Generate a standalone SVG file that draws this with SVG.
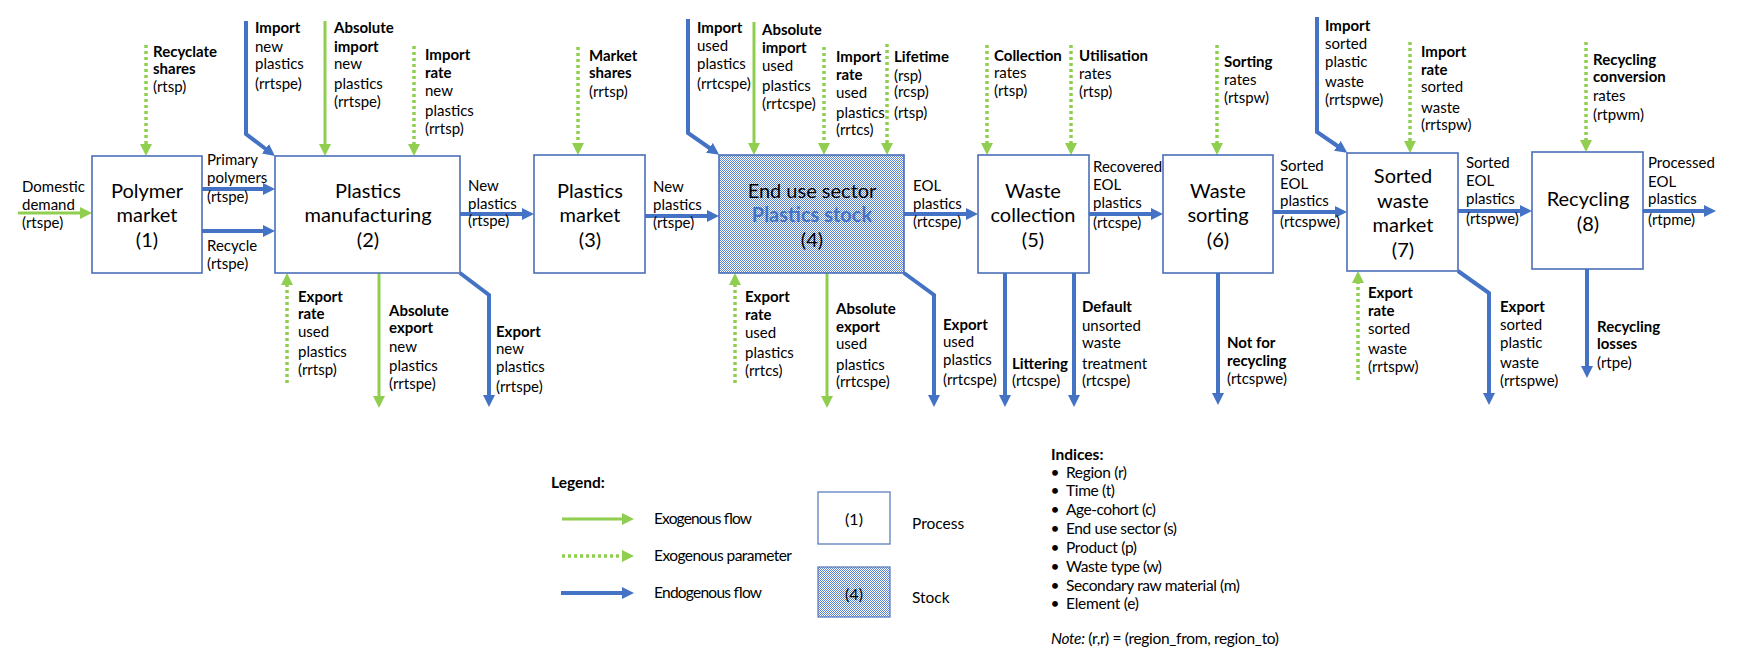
<svg xmlns="http://www.w3.org/2000/svg" width="1739" height="658" viewBox="0 0 1739 658">
<style>
text{font-family:Lato,"Open Sans","Liberation Sans",sans-serif;fill:#000}
.l{font-size:15px}
.b{font-weight:bold}
.n{font-size:20px;text-anchor:middle}
.s{font-size:15.5px}
.box{fill:#fff;stroke:#4A6FB8;stroke-width:1.6}
.stock{fill:url(#hatch);stroke:#4A6FB8;stroke-width:1.6}
.blue{fill:none;stroke:#4472C4;stroke-width:4;marker-end:url(#ab)}
.green{fill:none;stroke:#8FCE4F;stroke-width:3;marker-end:url(#ag)}
.dot{fill:none;stroke:#8FCE4F;stroke-width:3.5;stroke-dasharray:3 3;marker-end:url(#ag)}
</style>
<defs>
<pattern id="hatch" width="2" height="2" patternUnits="userSpaceOnUse">
<rect width="2" height="2" fill="#fff"/>
<rect width="1" height="1" fill="#5A82CE"/>
<rect x="1" y="1" width="1" height="1" fill="#5A82CE"/>
</pattern>
<marker id="ab" markerUnits="userSpaceOnUse" markerWidth="12" markerHeight="12" viewBox="0 0 12 12" refX="2" refY="6" orient="auto"><path d="M0,0 L12,6 L0,12 z" fill="#4472C4"/></marker>
<marker id="ag" markerUnits="userSpaceOnUse" markerWidth="12" markerHeight="12" viewBox="0 0 12 12" refX="2" refY="6" orient="auto"><path d="M0,0 L12,6 L0,12 z" fill="#8FCE4F"/></marker>
</defs>

<g id="connectors">
<path class="green" d="M18,213 H82"/>
<path class="blue" d="M202,189 H265"/>
<path class="blue" d="M202,231 H265"/>
<path class="blue" d="M460,214 H524"/>
<path class="blue" d="M645,216 H709"/>
<path class="blue" d="M904,214 H968"/>
<path class="blue" d="M1089,214 H1153"/>
<path class="blue" d="M1273,212 H1337"/>
<path class="blue" d="M1458,211 H1522"/>
<path class="blue" d="M1643,211 H1706"/>

<path class="dot" d="M146,45 V146"/>
<path class="blue" d="M246,21 V134 L267,150"/>
<path class="green" d="M325,21 V146"/>
<path class="dot" d="M414,46 V146"/>
<path class="dot" d="M578,47 V145"/>
<path class="blue" d="M688,19 V133 L711,149"/>
<path class="green" d="M754,22 V145"/>
<path class="dot" d="M824,47 V145"/>
<path class="dot" d="M887,44 V145"/>
<path class="dot" d="M987,45 V145"/>
<path class="dot" d="M1071,45 V145"/>
<path class="dot" d="M1217,45 V145"/>
<path class="blue" d="M1317,17 V132 L1339,147"/>
<path class="dot" d="M1410,42 V143"/>
<path class="dot" d="M1586,42 V142"/>

<path class="dot" d="M287,383 V283"/>
<path class="green" d="M379,273 V398"/>
<path class="blue" d="M460,273 L489,295 V397"/>
<path class="dot" d="M735,383 V283"/>
<path class="green" d="M827,273 V398"/>
<path class="blue" d="M904,273 L934,295 V397"/>
<path class="blue" d="M1005,273 V397"/>
<path class="blue" d="M1074,273 V397"/>
<path class="blue" d="M1218,273 V395"/>
<path class="dot" d="M1358,380 V281"/>
<path class="blue" d="M1458,271 L1489,293 V395"/>
<path class="blue" d="M1587,269 V368"/>
</g>

<g id="n1"><rect class="box" x="92" y="156" width="110" height="117"/>
<text class="n" x="147" y="198">Polymer</text><text class="n" x="147" y="222">market</text><text class="n" x="147" y="247">(1)</text></g>
<g id="n2"><rect class="box" x="275" y="156" width="185" height="117"/>
<text class="n" x="368" y="198">Plastics</text><text class="n" x="368" y="222">manufacturing</text><text class="n" x="368" y="247">(2)</text></g>
<g id="n3"><rect class="box" x="534" y="155" width="111" height="118"/>
<text class="n" x="590" y="198">Plastics</text><text class="n" x="590" y="222">market</text><text class="n" x="590" y="247">(3)</text></g>
<g id="n4"><rect class="stock" x="719" y="155" width="185" height="118"/>
<text class="n" x="812" y="198">End use sector</text><text class="n b" x="812" y="222" style="fill:#4472C4">Plastics stock</text><text class="n" x="812" y="247">(4)</text></g>
<g id="n5"><rect class="box" x="978" y="155" width="111" height="118"/>
<text class="n" x="1033" y="198">Waste</text><text class="n" x="1033" y="222">collection</text><text class="n" x="1033" y="247">(5)</text></g>
<g id="n6"><rect class="box" x="1163" y="155" width="110" height="118"/>
<text class="n" x="1218" y="198">Waste</text><text class="n" x="1218" y="222">sorting</text><text class="n" x="1218" y="247">(6)</text></g>
<g id="n7"><rect class="box" x="1347" y="153" width="111" height="118"/>
<text class="n" x="1403" y="183">Sorted</text><text class="n" x="1403" y="208">waste</text><text class="n" x="1403" y="232">market</text><text class="n" x="1403" y="257">(7)</text></g>
<g id="n8"><rect class="box" x="1532" y="152" width="111" height="117"/>
<text class="n" x="1588" y="206">Recycling</text><text class="n" x="1588" y="231">(8)</text></g>

<g id="flow-labels" class="l">
<text x="22" y="192">Domestic</text><text x="22" y="210">demand</text><text x="22" y="228">(rtspe)</text>
<text x="207" y="165">Primary</text><text x="207" y="183">polymers</text><text x="207" y="202">(rtspe)</text>
<text x="207" y="251">Recycle</text><text x="207" y="269">(rtspe)</text>
<text x="468" y="191">New</text><text x="468" y="209">plastics</text><text x="468" y="226">(rtspe)</text>
<text x="653" y="192">New</text><text x="653" y="210">plastics</text><text x="653" y="228">(rtspe)</text>
<text x="913" y="191">EOL</text><text x="913" y="209">plastics</text><text x="913" y="227">(rtcspe)</text>
<text x="1093" y="172">Recovered</text><text x="1093" y="190">EOL</text><text x="1093" y="208">plastics</text><text x="1093" y="228">(rtcspe)</text>
<text x="1280" y="171">Sorted</text><text x="1280" y="189">EOL</text><text x="1280" y="206">plastics</text><text x="1280" y="227">(rtcspwe)</text>
<text x="1466" y="168">Sorted</text><text x="1466" y="186">EOL</text><text x="1466" y="204">plastics</text><text x="1466" y="224">(rtspwe)</text>
<text x="1648" y="168">Processed</text><text x="1648" y="187">EOL</text><text x="1648" y="204">plastics</text><text x="1648" y="225">(rtpme)</text>

<text x="153" y="57" class="b">Recyclate</text><text x="153" y="74" class="b">shares</text><text x="153" y="92">(rtsp)</text>
<text x="255" y="33" class="b">Import</text><text x="255" y="52">new</text><text x="255" y="69">plastics</text><text x="255" y="89">(rrtspe)</text>
<text x="334" y="33" class="b">Absolute</text><text x="334" y="52" class="b">import</text><text x="334" y="69">new</text><text x="334" y="89">plastics</text><text x="334" y="107">(rrtspe)</text>
<text x="425" y="60" class="b">Import</text><text x="425" y="78" class="b">rate</text><text x="425" y="96">new</text><text x="425" y="116">plastics</text><text x="425" y="134">(rrtsp)</text>
<text x="589" y="61" class="b">Market</text><text x="589" y="78" class="b">shares</text><text x="589" y="97">(rrtsp)</text>
<text x="697" y="33" class="b">Import</text><text x="697" y="51">used</text><text x="697" y="69">plastics</text><text x="697" y="89">(rrtcspe)</text>
<text x="762" y="35" class="b">Absolute</text><text x="762" y="53" class="b">import</text><text x="762" y="71">used</text><text x="762" y="91">plastics</text><text x="762" y="109">(rrtcspe)</text>
<text x="836" y="62" class="b">Import</text><text x="836" y="80" class="b">rate</text><text x="836" y="98">used</text><text x="836" y="118">plastics</text><text x="836" y="135">(rrtcs)</text>
<text x="894" y="62" class="b">Lifetime</text><text x="894" y="81">(rsp)</text><text x="894" y="97">(rcsp)</text><text x="894" y="118">(rtsp)</text>
<text x="994" y="61" class="b">Collection</text><text x="994" y="78">rates</text><text x="994" y="96">(rtsp)</text>
<text x="1079" y="61" class="b">Utilisation</text><text x="1079" y="79">rates</text><text x="1079" y="97">(rtsp)</text>
<text x="1224" y="67" class="b">Sorting</text><text x="1224" y="85">rates</text><text x="1224" y="103">(rtspw)</text>
<text x="1325" y="31" class="b">Import</text><text x="1325" y="49">sorted</text><text x="1325" y="67">plastic</text><text x="1325" y="87">waste</text><text x="1325" y="105">(rrtspwe)</text>
<text x="1421" y="57" class="b">Import</text><text x="1421" y="75" class="b">rate</text><text x="1421" y="92">sorted</text><text x="1421" y="113">waste</text><text x="1421" y="130">(rrtspw)</text>
<text x="1593" y="65" class="b">Recycling</text><text x="1593" y="82" class="b">conversion</text><text x="1593" y="101">rates</text><text x="1593" y="120">(rtpwm)</text>

<text x="298" y="302" class="b">Export</text><text x="298" y="319" class="b">rate</text><text x="298" y="337">used</text><text x="298" y="357">plastics</text><text x="298" y="375">(rrtsp)</text>
<text x="389" y="316" class="b">Absolute</text><text x="389" y="333" class="b">export</text><text x="389" y="352">new</text><text x="389" y="371">plastics</text><text x="389" y="389">(rrtspe)</text>
<text x="496" y="337" class="b">Export</text><text x="496" y="354">new</text><text x="496" y="372">plastics</text><text x="496" y="392">(rrtspe)</text>
<text x="745" y="302" class="b">Export</text><text x="745" y="320" class="b">rate</text><text x="745" y="338">used</text><text x="745" y="358">plastics</text><text x="745" y="376">(rrtcs)</text>
<text x="836" y="314" class="b">Absolute</text><text x="836" y="332" class="b">export</text><text x="836" y="349">used</text><text x="836" y="370">plastics</text><text x="836" y="387">(rrtcspe)</text>
<text x="943" y="330" class="b">Export</text><text x="943" y="347">used</text><text x="943" y="365">plastics</text><text x="943" y="385">(rrtcspe)</text>
<text x="1012" y="369" class="b">Littering</text><text x="1012" y="386">(rtcspe)</text>
<text x="1082" y="312" class="b">Default</text><text x="1082" y="331">unsorted</text><text x="1082" y="348">waste</text><text x="1082" y="369">treatment</text><text x="1082" y="386">(rtcspe)</text>
<text x="1227" y="348" class="b">Not for</text><text x="1227" y="366" class="b">recycling</text><text x="1227" y="384">(rtcspwe)</text>
<text x="1368" y="298" class="b">Export</text><text x="1368" y="316" class="b">rate</text><text x="1368" y="334">sorted</text><text x="1368" y="354">waste</text><text x="1368" y="372">(rrtspw)</text>
<text x="1500" y="312" class="b">Export</text><text x="1500" y="330">sorted</text><text x="1500" y="348">plastic</text><text x="1500" y="368">waste</text><text x="1500" y="386">(rrtspwe)</text>
<text x="1597" y="332" class="b">Recycling</text><text x="1597" y="349" class="b">losses</text><text x="1597" y="368">(rtpe)</text>
</g>

<g id="legend" class="s">
<text x="551" y="488" class="b">Legend:</text>
<path class="green" d="M562,519 H624"/>
<text x="654" y="524" textLength="98">Exogenous flow</text>
<path class="dot" d="M562,556 H624"/>
<text x="654" y="561" textLength="138">Exogenous parameter</text>
<path class="blue" d="M561,593 H624"/>
<text x="654" y="598" textLength="108">Endogenous flow</text>
<rect class="box" x="818" y="492" width="72" height="52" style="stroke:#5B7FC0;stroke-width:1.3"/>
<text x="854" y="525" style="font-size:16px;text-anchor:middle">(1)</text>
<text x="912" y="529">Process</text>
<rect class="stock" x="818" y="567" width="72" height="50" style="stroke:#5B7FC0;stroke-width:1.3"/>
<text x="854" y="600" style="font-size:16px;text-anchor:middle">(4)</text>
<text x="912" y="603">Stock</text>
</g>

<g id="indices" class="s">
<text x="1051" y="460" class="b">Indices:</text>
<text x="1055" y="478" text-anchor="middle">•</text><text x="1066" y="478" textLength="61">Region (r)</text>
<text x="1055" y="496" text-anchor="middle">•</text><text x="1066" y="496" textLength="49">Time (t)</text>
<text x="1055" y="515" text-anchor="middle">•</text><text x="1066" y="515" textLength="90">Age-cohort (c)</text>
<text x="1055" y="534" text-anchor="middle">•</text><text x="1066" y="534" textLength="111">End use sector (s)</text>
<text x="1055" y="553" text-anchor="middle">•</text><text x="1066" y="553" textLength="71">Product (p)</text>
<text x="1055" y="572" text-anchor="middle">•</text><text x="1066" y="572" textLength="96">Waste type (w)</text>
<text x="1055" y="591" text-anchor="middle">•</text><text x="1066" y="591" textLength="174">Secondary raw material (m)</text>
<text x="1055" y="609" text-anchor="middle">•</text><text x="1066" y="609" textLength="73">Element (e)</text>
<text x="1051" y="644" textLength="228"><tspan font-style="italic">Note:</tspan> (r,r) = (region_from, region_to)</text>
</g>
</svg>
